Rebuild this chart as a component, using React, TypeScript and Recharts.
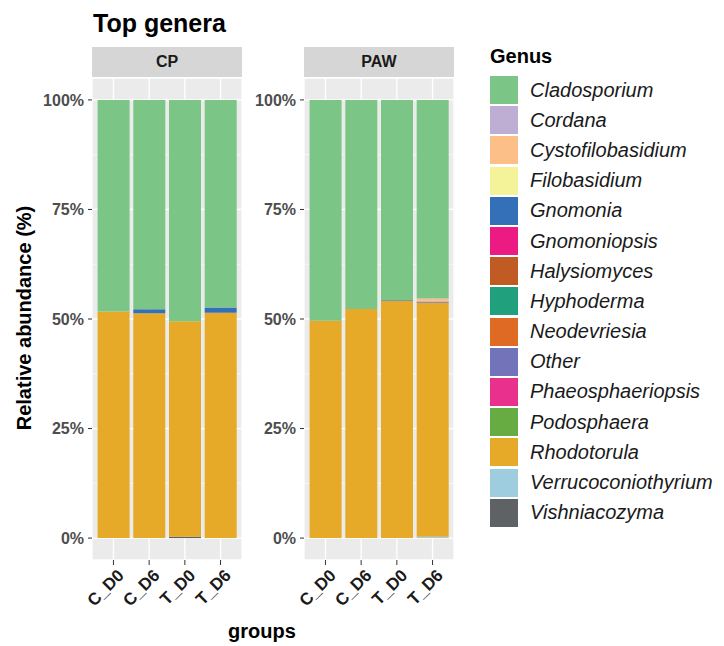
import React from "react";
import { Bar, BarChart, CartesianGrid, XAxis, YAxis } from "recharts";

const samples = ["C_D0", "C_D6", "T_D0", "T_D6"];
const facets = ["CP", "PAW"];

const genera = [
  "Cladosporium",
  "Cordana",
  "Cystofilobasidium",
  "Filobasidium",
  "Gnomonia",
  "Gnomoniopsis",
  "Halysiomyces",
  "Hyphoderma",
  "Neodevriesia",
  "Other",
  "Phaeosphaeriopsis",
  "Podosphaera",
  "Rhodotorula",
  "Verrucoconiothyrium",
  "Vishniacozyma"
];

const genusColors = [
  "#7bc686",
  "#beaed4",
  "#fdbf88",
  "#f4f39a",
  "#3470b8",
  "#ec1a83",
  "#bf5b23",
  "#20a07c",
  "#de6a24",
  "#7273b8",
  "#e8308c",
  "#66ac43",
  "#e6aa28",
  "#9fcde0",
  "#5e6264"
];

// relative abundance (%) per genus: CP C_D0, C_D6, T_D0, T_D6, then PAW C_D0, C_D6, T_D0, T_D6
const cladosporium = [48.3, 47.8, 50.5, 47.4, 50.4, 47.7, 45.7, 45.3];
const cordana = [0, 0, 0, 0, 0, 0, 0, 0];
const cystofilobasidium = [0, 0, 0, 0, 0, 0, 0, 0.7];
const filobasidium = [0, 0, 0, 0, 0, 0, 0, 0];
const gnomonia = [0, 0.9, 0, 1.2, 0, 0, 0, 0];
const gnomoniopsis = [0, 0, 0, 0, 0, 0, 0, 0];
const halysiomyces = [0, 0, 0, 0, 0, 0, 0, 0];
const hyphoderma = [0, 0, 0, 0, 0, 0, 0, 0];
const neodevriesia = [0, 0, 0, 0, 0, 0, 0, 0];
const other = [0, 0, 0, 0, 0, 0, 0.2, 0.3];
const phaeosphaeriopsis = [0, 0, 0, 0, 0, 0, 0, 0];
const podosphaera = [0, 0, 0, 0, 0, 0, 0, 0];
const rhodotorula = [51.7, 51.3, 49.2, 51.4, 49.6, 52.3, 54.1, 53.4];
const verrucoconiothyrium = [0, 0, 0, 0, 0, 0, 0, 0.3];
const vishniacozyma = [0, 0, 0.3, 0, 0, 0, 0, 0];

const genusValues = [
  cladosporium,
  cordana,
  cystofilobasidium,
  filobasidium,
  gnomonia,
  gnomoniopsis,
  halysiomyces,
  hyphoderma,
  neodevriesia,
  other,
  phaeosphaeriopsis,
  podosphaera,
  rhodotorula,
  verrucoconiothyrium,
  vishniacozyma
];

const yTicks = [0, 25, 50, 75, 100];
const yMinor = [12.5, 37.5, 62.5, 87.5];

const FONT = "'Liberation Sans', Arial, sans-serif";

function facetRows(facetIndex: number) {
  return samples.map((sample, i) => {
    const row: Record<string, string | number> = { sample };
    genera.forEach((g, gi) => {
      row[g] = genusValues[gi][facetIndex * 4 + i];
    });
    return row;
  });
}

const XTick = (props: any) => {
  const { x, y, payload } = props;
  return (
    <text
      x={x + 3}
      y={y}
      transform={`rotate(-45 ${x + 3} ${y})`}
      textAnchor="end"
      dominantBaseline="hanging"
      fontSize={17}
      fontWeight="bold"
      fill="#1a1a1a"
      fontFamily={FONT}
    >
      {payload.value}
    </text>
  );
};

function Panel({ facetIndex, left, axisWidth }: { facetIndex: number; left: number; axisWidth: number }) {
  const width = axisWidth + 150 + 8;
  // recharts stacks bottom-up, so the last genus goes first
  const order = genera.map((_, i) => genera.length - 1 - i);
  return (
    <div style={{ position: "absolute", left, top: 0 }}>
      <BarChart
        width={width}
        height={646}
        data={facetRows(facetIndex)}
        margin={{ top: 78, right: 8, bottom: 0, left: 0 }}
        barSize={32}
      >
        <CartesianGrid fill="#ebebeb" stroke="#ffffff" strokeWidth={1.3} />
        <CartesianGrid vertical={false} horizontalValues={yMinor} stroke="#ffffff" strokeWidth={0.6} />
        <XAxis
          dataKey="sample"
          interval={0}
          height={86}
          axisLine={false}
          tickLine={{ stroke: "#333333" }}
          tickSize={5}
          tickMargin={3}
          padding={{ left: 3.6, right: 3.6 }}
          tick={<XTick />}
        />
        <YAxis
          type="number"
          domain={[-5, 105]}
          ticks={yTicks}
          allowDataOverflow
          width={axisWidth}
          axisLine={false}
          tickLine={{ stroke: "#333333" }}
          tickSize={4}
          tickMargin={4}
          tickFormatter={(v: number) => `${v}%`}
          tick={{ fill: "#4d4d4d", fontSize: 16, fontWeight: "bold", fontFamily: FONT }}
        />
        {order.map((gi) => (
          <Bar
            key={genera[gi]}
            dataKey={genera[gi]}
            stackId="a"
            fill={genusColors[gi]}
            isAnimationActive={false}
          />
        ))}
      </BarChart>
    </div>
  );
}

export default function App() {
  return (
    <div
      style={{
        position: "absolute",
        left: 0,
        top: 0,
        width: 724,
        height: 646,
        background: "#ffffff",
        fontFamily: FONT,
        overflow: "hidden"
      }}
    >
      <Panel facetIndex={0} left={0} axisWidth={92} />
      <Panel facetIndex={1} left={242} axisWidth={62} />

      <div style={{ position: "absolute", left: 93, top: 9, fontSize: 25, fontWeight: "bold", color: "#000" }}>
        Top genera
      </div>

      {facets.map((f, i) => (
        <div
          key={f}
          style={{
            position: "absolute",
            left: i === 0 ? 92 : 304,
            top: 47,
            width: 150,
            height: 30,
            background: "#d6d6d6",
            display: "flex",
            alignItems: "center",
            justifyContent: "center",
            fontSize: 16,
            fontWeight: "bold",
            color: "#1a1a1a"
          }}
        >
          {f}
        </div>
      ))}

      <div
        style={{
          position: "absolute",
          left: 24,
          top: 318,
          transform: "translate(-50%, -50%) rotate(-90deg)",
          whiteSpace: "nowrap",
          fontSize: 20,
          fontWeight: "bold",
          color: "#000"
        }}
      >
        Relative abundance (%)
      </div>

      <div
        style={{
          position: "absolute",
          left: 262,
          top: 620,
          transform: "translateX(-50%)",
          fontSize: 20,
          fontWeight: "bold",
          color: "#000"
        }}
      >
        groups
      </div>

      <div style={{ position: "absolute", left: 490, top: 45 }}>
        <div style={{ fontSize: 20, fontWeight: "bold", color: "#000", height: 30 }}>Genus</div>
        {genera.map((g, i) => (
          <div key={g} style={{ display: "flex", alignItems: "center", height: 30.2 }}>
            <div style={{ width: 28, height: 28, background: genusColors[i] }} />
            <div style={{ marginLeft: 12, fontSize: 20, fontStyle: "italic", color: "#1a1a1a", whiteSpace: "nowrap" }}>
              {g}
            </div>
          </div>
        ))}
      </div>
    </div>
  );
}
